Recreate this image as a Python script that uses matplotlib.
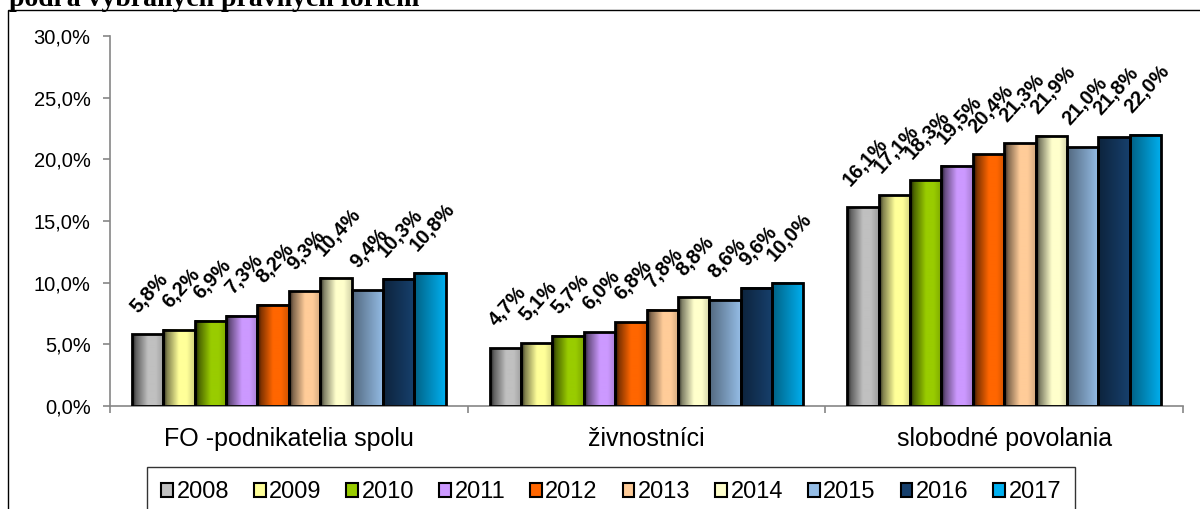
import numpy as np
import matplotlib
matplotlib.use("Agg")
import matplotlib.pyplot as plt
from matplotlib.colors import to_rgb
from matplotlib.patches import Rectangle

# data (percent)
categories = ["FO -podnikatelia spolu", "živnostníci", "slobodné povolania"]
years = ["2008", "2009", "2010", "2011", "2012", "2013", "2014", "2015", "2016", "2017"]
fo_spolu = [5.8, 6.2, 6.9, 7.3, 8.2, 9.3, 10.4, 9.4, 10.3, 10.8]
zivnostnici = [4.7, 5.1, 5.7, 6.0, 6.8, 7.8, 8.8, 8.6, 9.6, 10.0]
slobodne = [16.1, 17.1, 18.3, 19.5, 20.4, 21.3, 21.9, 21.0, 21.8, 22.0]
colors = ["#C0C0C0", "#FFFF99", "#99CC00", "#CC99FF", "#FF6600",
          "#FFCC99", "#FFFFCC", "#95BDE6", "#17406D", "#00B0F0"]

values = np.array([fo_spolu, zivnostnici, slobodne])  # shape (3, 10)

plt.rcParams["font.family"] = ["Liberation Sans", "DejaVu Sans"]

fig = plt.figure(figsize=(12, 5.09), dpi=100)
W, H = 1200, 509
ax = fig.add_axes([110 / W, (H - 406) / H, (1183 - 110) / W, (406 - 36) / H])

x = np.arange(len(categories))
w = 0.0877
n = len(years)


def shade_profile(t, flat):
    # cylinder-like shading across the bar width
    if flat:
        return np.interp(t, [0, 1], [0.55, 1.0])
    return np.interp(t, [0, 0.12, 0.5, 0.75, 1.0], [0.12, 0.5, 1.0, 1.0, 0.82])


t = np.linspace(0, 1, 64)
for i, year in enumerate(years):
    pos = x + (i - (n - 1) / 2) * w
    bars = ax.bar(pos, values[:, i], width=w, facecolor="none",
                  edgecolor="black", linewidth=2.0, zorder=3)
    base = np.array(to_rgb(colors[i]))
    f = shade_profile(t, i >= 7)
    grad = np.clip(base[None, :] * f[:, None], 0, 1)[None, :, :]
    for rect in bars:
        x0 = rect.get_x()
        ax.imshow(grad, extent=(x0, x0 + rect.get_width(), 0, rect.get_height()),
                  aspect="auto", interpolation="bilinear", zorder=2)
    for xi, v in zip(pos, values[:, i]):
        ax.annotate(f"{v:.1f}".replace(".", ",") + "%", (xi, v),
                    xytext=(1.5, 13), textcoords="offset points",
                    ha="center", va="bottom", rotation=48,
                    fontsize=14.5, fontweight="bold", zorder=4)

ax.set_xlim(-0.5, len(categories) - 0.5)
ax.set_ylim(0, 30)
ax.set_yticks(np.arange(0, 31, 5))
ax.set_yticklabels([f"{v:.1f}".replace(".", ",") + "%" for v in np.arange(0, 31, 5)],
                   fontsize=14.5)
ax.set_xticks(x)
ax.set_xticklabels(categories, fontsize=18)
ax.set_xticks(np.arange(-0.5, len(categories), 1), minor=True)
ax.tick_params(axis="x", which="major", length=0, pad=15)
ax.tick_params(axis="x", which="minor", length=5, color="#868686", width=1.2)
ax.tick_params(axis="y", length=5, color="#868686", width=1.2, pad=9)
for s in ["top", "right"]:
    ax.spines[s].set_visible(False)
for s in ["left", "bottom"]:
    ax.spines[s].set_color("#868686")
    ax.spines[s].set_linewidth(1.2)

handles = [Rectangle((0, 0), 1, 1, facecolor=c, edgecolor="black", linewidth=1.5)
           for c in colors]
leg = fig.legend(handles, years, loc="upper left",
                 bbox_to_anchor=(147 / W, (H - 467) / H), ncol=len(years),
                 fontsize=17, frameon=True, fancybox=False, edgecolor="black",
                 handlelength=0.5, handleheight=0.5, handletextpad=0.15,
                 columnspacing=1.05, borderpad=0.6, borderaxespad=0)
leg.get_frame().set_linewidth(1.0)

# outer chart frame (cut off at the right and bottom in the original)
fig.patches.append(Rectangle((8 / W, -0.2), 1.2, (H - 10.5) / H + 0.2,
                             transform=fig.transFigure, facecolor="none",
                             edgecolor="black", linewidth=1.0))

# title, only its lower part is visible
fig.text(9 / W, (H - 6) / H, "podľa vybraných právnych foriem",
         fontfamily="Liberation Serif", fontweight="bold", fontsize=20,
         va="baseline", ha="left")

fig.savefig("out.png", dpi=100)
